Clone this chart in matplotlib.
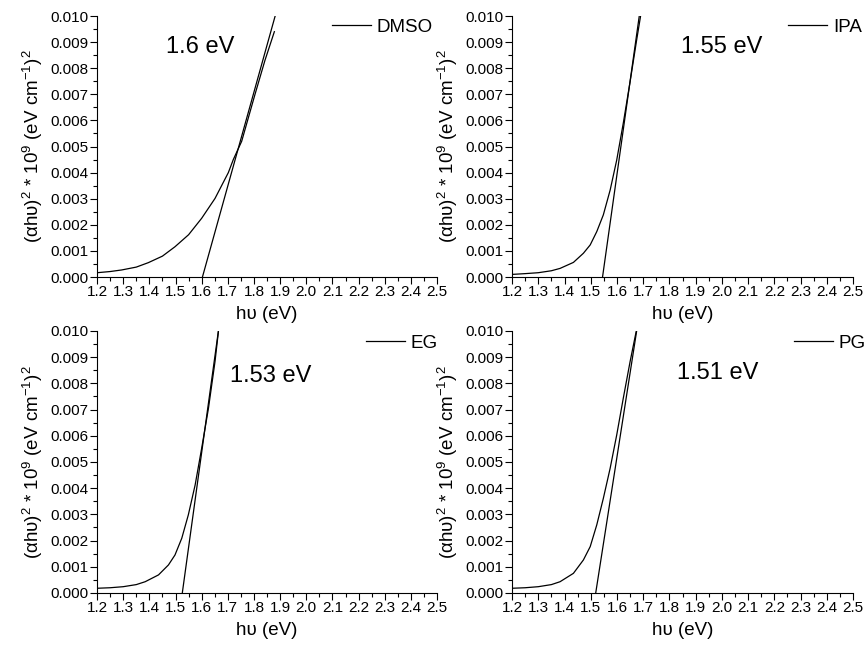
import matplotlib
matplotlib.use("Agg")
import matplotlib.pyplot as plt
from matplotlib.ticker import MultipleLocator, FormatStrFormatter

plt.rcParams["font.family"] = ["Liberation Sans", "DejaVu Sans"]
plt.rcParams["mathtext.fontset"] = "custom"
plt.rcParams["mathtext.rm"] = "Liberation Sans"
plt.rcParams["mathtext.it"] = "Liberation Sans"
plt.rcParams["mathtext.default"] = "regular"

# Tauc curves
dmso_x = [1.20, 1.25, 1.294, 1.35, 1.396, 1.45, 1.498, 1.55, 1.600, 1.651, 1.702, 1.721, 1.753, 1.804, 1.842, 1.878]
dmso_y = [0.000165, 0.00021, 0.00027, 0.00038, 0.00055, 0.00080, 0.00116, 0.00162, 0.00225, 0.00301, 0.0040, 0.0045, 0.0052, 0.0070, 0.0083, 0.0094]
dmso_fit_x = [1.603, 1.881]
dmso_fit_y = [0.0, 0.010]

ipa_x = [1.20, 1.25, 1.30, 1.35, 1.383, 1.434, 1.472, 1.498, 1.523, 1.548, 1.574, 1.599, 1.624, 1.650, 1.675, 1.690]
ipa_y = [0.0001, 0.00013, 0.000165, 0.00024, 0.00033, 0.00056, 0.00091, 0.00123, 0.00174, 0.00238, 0.00333, 0.00448, 0.00589, 0.00748, 0.00908, 0.0100]
ipa_fit_x = [1.545, 1.685]
ipa_fit_y = [0.0, 0.010]

eg_x = [1.20, 1.25, 1.30, 1.35, 1.384, 1.435, 1.473, 1.498, 1.524, 1.549, 1.575, 1.600, 1.626, 1.651, 1.664]
eg_y = [0.00018, 0.0002, 0.00024, 0.00032, 0.00043, 0.00069, 0.00107, 0.00145, 0.00209, 0.00298, 0.00412, 0.00552, 0.00705, 0.00883, 0.00997]
eg_fit_x = [1.526, 1.664]
eg_fit_y = [0.0, 0.010]

pg_x = [1.20, 1.25, 1.30, 1.35, 1.383, 1.434, 1.472, 1.498, 1.523, 1.548, 1.574, 1.599, 1.624, 1.650, 1.673]
pg_y = [0.00018, 0.0002, 0.00024, 0.00032, 0.00043, 0.00075, 0.00126, 0.00177, 0.0026, 0.00361, 0.00476, 0.00603, 0.00743, 0.00883, 0.00997]
pg_fit_x = [1.519, 1.675]
pg_fit_y = [0.0, 0.010]

names = ["DMSO", "IPA", "EG", "PG"]
gaps = ["1.6 eV", "1.55 eV", "1.53 eV", "1.51 eV"]
gap_pos = [(1.594, 0.0088), (2.0, 0.0088), (1.865, 0.0083), (1.985, 0.0084)]

curves = [(dmso_x, dmso_y, dmso_fit_x, dmso_fit_y),
          (ipa_x, ipa_y, ipa_fit_x, ipa_fit_y),
          (eg_x, eg_y, eg_fit_x, eg_fit_y),
          (pg_x, pg_y, pg_fit_x, pg_fit_y)]

boxes = [[0.1118, 0.5725, 0.3917, 0.4028],
         [0.5899, 0.5725, 0.3929, 0.4028],
         [0.1118, 0.0849, 0.3917, 0.4043],
         [0.5899, 0.0849, 0.3929, 0.4043]]
# right edge / vertical centre of each legend, axes fraction
leg_anchor = [(0.988, 0.958), (1.026, 0.958), (1.003, 0.954), (1.038, 0.954)]

fig = plt.figure(figsize=(8.68, 6.48), dpi=100)

for i in range(4):
    ax = fig.add_axes(boxes[i])
    x, y, fx, fy = curves[i]
    ax.plot(x, y, color="black", lw=0.9, label=names[i])
    ax.plot(fx, fy, color="black", lw=0.9)
    ax.set_xlim(1.2, 2.5)
    ax.set_ylim(0.0, 0.010)
    ax.spines["top"].set_visible(False)
    ax.spines["right"].set_visible(False)
    ax.xaxis.set_major_locator(MultipleLocator(0.1))
    ax.xaxis.set_minor_locator(MultipleLocator(0.05))
    ax.yaxis.set_major_locator(MultipleLocator(0.001))
    ax.yaxis.set_minor_locator(MultipleLocator(0.0005))
    ax.xaxis.set_major_formatter(FormatStrFormatter("%.1f"))
    ax.yaxis.set_major_formatter(FormatStrFormatter("%.3f"))
    ax.tick_params(which="major", length=5, width=0.8, labelsize=11, pad=1)
    ax.tick_params(which="minor", length=3, width=0.8)
    ax.set_xlabel("h\u03c5 (eV)", fontsize=13.5, labelpad=5)
    ax.set_ylabel(r"$(\alpha h\upsilon)^2$ * $10^9$ (eV cm$^{-1}$)$^2$", fontsize=13.5, labelpad=4)
    ax.text(gap_pos[i][0], gap_pos[i][1], gaps[i], fontsize=17, ha="center", va="center")
    ax.legend(loc="center right", frameon=False, fontsize=13.5, handlelength=2.1,
              handletextpad=0.3, borderaxespad=0, borderpad=0,
              bbox_to_anchor=leg_anchor[i])

fig.savefig("out.png", dpi=100)
